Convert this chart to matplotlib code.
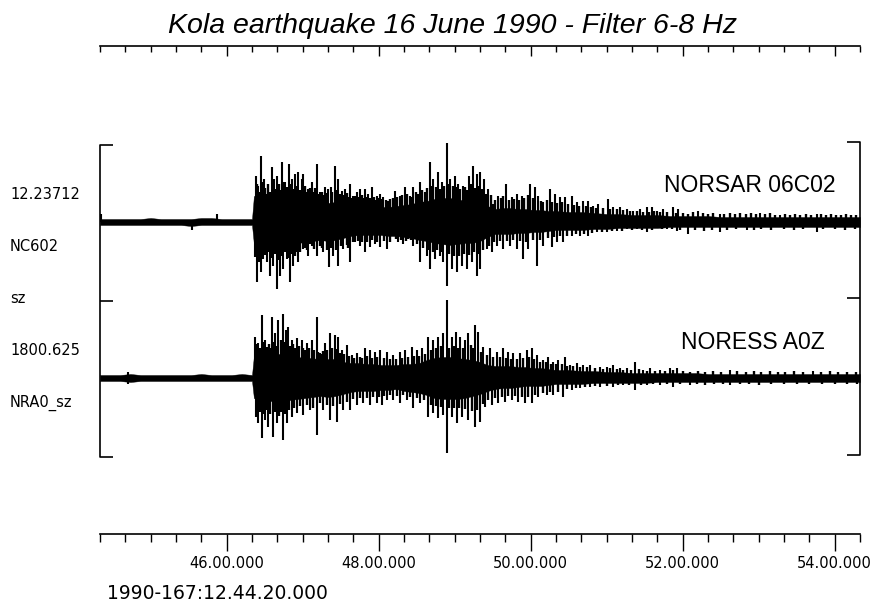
import numpy as np
import matplotlib
matplotlib.use("Agg")
import matplotlib.pyplot as plt

# time is seconds after 1990-167 12:44:20
core_t = np.r_[np.arange(0, 121, 8), 121.5, 126, np.arange(132, 361, 6), np.arange(370, 601, 10)]

# NORSAR 06C02 (NC602 sz) - solid part of the trace, upper / lower envelope
nc602_up = [3, 3, 3, 3, 3, 4, 3, 3, 3, 3, 4, 4, 3, 3, 3, 3,
            26, 26,
            24, 26, 25, 24, 23, 22, 21, 20, 19, 20, 18, 16, 16, 15, 15, 15, 15, 16, 17, 18,
            20, 21, 23, 24, 24, 23, 21, 21, 19, 16, 13, 14, 14, 13, 13, 12, 12, 11, 11,
            10, 10, 9, 8, 8, 7, 7, 7, 6, 6, 6, 6, 5, 5, 5, 5, 5, 5, 5, 5, 5, 5, 5, 5]
nc602_dn = [3, 3, 3, 3, 3, 3, 3, 3, 3, 4, 3, 3, 3, 3, 3, 3,
            22, 24,
            24, 25, 24, 23, 21, 20, 19, 18, 19, 18, 16, 14, 13, 13, 13, 13, 14, 14, 15, 16,
            18, 19, 21, 22, 23, 22, 21, 21, 19, 15, 12, 12, 12, 11, 11, 10, 10, 9, 8,
            8, 8, 7, 7, 6, 6, 6, 6, 5, 5, 5, 5, 5, 5, 5, 5, 5, 5, 5, 5, 5, 5, 5, 5]

# NORSAR 06C02 large single peaks (time, amplitude)
nc602_pk_up_t = [0.5, 92, 122.9, 125.0, 127.1, 129.5, 131.6, 135.6, 137.4, 139.5, 143.4, 146.1,
                 149.4, 151.8, 153.9, 156.6, 159.2, 160.5, 164.4, 167.1, 171.1, 173.7, 177.6,
                 180.2, 182.1, 185.5, 188.1, 190.8, 193.4, 197.4, 200, 202.7, 205.3, 209.2,
                 211.8, 214.5, 218.4, 221.1, 223.7, 227.6, 232.9, 236.8, 240.8, 244.7, 247.3,
                 252.6, 256.6, 260.5, 263.1, 267.1, 269.8, 273.7, 276.3, 280.3, 282.9, 286.8,
                 291.6, 294.7, 297.4, 300, 303.2, 306.6, 310.5, 314.4, 320.5, 325, 329, 332.9,
                 339.5, 343.4, 346, 350, 355.3, 359.2, 363.2, 367.1, 372.4, 376.3, 381.6, 385.5,
                 389.4, 393.4, 401.3, 405.2, 410.5, 415.8, 421, 426.3, 431.6, 435.5, 439.5,
                 444.7, 452.6, 456.5, 472.1, 489.5, 521, 536.8, 565.8]
nc602_pk_up_a = [8, 8, 46, 36, 66, 43, 28, 55, 43, 46, 60, 40,
                 58, 43, 48, 50, 43, 48, 33, 40, 58, 30, 35,
                 33, 35, 56, 43, 31, 33, 38, 26, 30, 33, 33,
                 28, 35, 26, 28, 25, 21, 31, 26, 35, 26, 35,
                 40, 30, 60, 43, 50, 40, 79, 43, 46, 38, 36,
                 46, 56, 48, 50, 43, 33, 18, 26, 38, 25, 28, 26,
                 38, 35, 26, 20, 33, 28, 25, 25, 26, 20, 21, 21,
                 16, 18, 23, 15, 15, 13, 11, 13, 15, 15, 11,
                 13, 15, 13, 11, 8, 9, 7, 8]
nc602_pk_dn_t = [73, 122.4, 123.7, 125.5, 126.9, 128.9, 131.6, 134.2, 136.3, 139.5, 142.1, 144.7,
                 147.4, 150, 152.6, 156.6, 160.5, 164.4, 167.1, 171.1, 176.3, 181, 184.2, 188.1,
                 192.1, 197.4, 201.3, 205.3, 209.2, 213.2, 217.1, 221.1, 226.3, 231.6, 235.5,
                 239.5, 243.4, 247.3, 252.6, 257.9, 260.5, 264.5, 268.4, 271.1, 273.7, 277.6,
                 281.6, 285.5, 289.5, 293.4, 297.4, 300, 305.3, 309.2, 313.2, 318.4, 323.7, 329,
                 334.2, 338.1, 344.8, 350, 356.6, 360.5, 365.8, 372.4, 378.9, 385.5, 392.1, 400,
                 407.9, 415.8, 423.7, 431.6, 439.5, 447.4, 455.3, 464.2, 489.5, 510.5, 565.8]
nc602_pk_dn_a = [8, 35, 60, 40, 50, 37, 40, 54, 44, 67, 54, 47,
                 37, 60, 44, 40, 27, 34, 24, 34, 30, 45, 34, 44,
                 27, 40, 20, 24, 30, 25, 22, 25, 27, 14, 20,
                 22, 17, 24, 40, 34, 47, 37, 34, 40, 64, 47,
                 50, 44, 47, 40, 54, 47, 27, 30, 24, 27, 24, 27,
                 37, 27, 44, 24, 25, 20, 20, 14, 14, 14, 10, 10,
                 9, 7, 7, 10, 5, 7, 9, 12, 10, 8, 10]

# NORSAR 06C02 smaller peaks between the large ones (time, amplitude)
nc602_sm_up = [(124, 38), (126, 30), (128.3, 40), (130.5, 34), (133, 38), (134.3, 30), (136.5, 36),
               (138.5, 33), (141, 38), (142.3, 32), (144.8, 40), (147.5, 35), (148.3, 30), (150.6, 38),
               (152.9, 33), (155, 36), (158, 32), (162, 36), (163.3, 30), (165.7, 34), (168.5, 30),
               (170, 34), (172.4, 28), (175, 30), (176.4, 27), (179, 29), (183.5, 30), (187, 32),
               (189.5, 28), (192, 27), (195, 29), (196, 25), (198.7, 24), (201.3, 26), (204, 25),
               (206.6, 27), (208, 24), (210.5, 25), (213, 24), (216, 25), (217.3, 22), (219.8, 24),
               (222.4, 23), (225.5, 22), (229, 23), (231, 24), (234.5, 25), (238.6, 27), (242.7, 28),
               (246, 25), (249.5, 30), (251, 28), (254.6, 32), (258.5, 34), (262, 36), (265, 35),
               (268.5, 33), (271.5, 36), (275, 38), (278.3, 36), (281.6, 35), (284.5, 33), (288, 35),
               (289.8, 32), (293, 38), (296, 34), (298.7, 36), (301.5, 33), (305, 28), (308.5, 27),
               (312, 22), (316.5, 24), (318.5, 26), (322.8, 22), (327, 23), (331, 22), (335, 24),
               (337.5, 27), (341.5, 24), (348, 21), (352.5, 22), (357, 20), (361, 19), (365, 20),
               (369.5, 18), (374, 17), (378.5, 16), (383.5, 16), (387.5, 15), (391.5, 14), (397, 14),
               (403, 13), (408, 13), (413, 12), (418.5, 11), (424, 11), (429, 10), (433.5, 10),
               (437.5, 11), (442, 10), (448, 10), (454.5, 9), (460, 9), (464, 8), (468, 10), (476, 9),
               (480, 8), (484, 9), (493, 8), (497, 9), (501, 8), (505, 9), (510, 8), (514, 9),
               (518, 8), (525, 8), (529, 9), (533, 7), (541, 8), (545, 7), (549, 8), (553, 7),
               (557, 8), (561, 7), (569, 8), (573, 7), (577, 8), (581, 7), (585, 7), (589, 8),
               (593, 7), (597, 7)]
nc602_sm_dn = [(124.5, 34), (127.8, 30), (130.2, 33), (133, 30), (135.2, 36), (137.8, 32), (140.8, 38),
               (143.4, 34), (146, 30), (148.7, 36), (151.3, 32), (154, 34), (155.3, 30), (158, 30),
               (162, 26), (163.3, 28), (165.8, 22), (169, 27), (173.7, 24), (175, 26), (178.9, 28),
               (182.5, 26), (186, 28), (190, 24), (194.7, 23), (196, 26), (199.5, 20), (203.3, 19),
               (207, 20), (211, 20), (215, 18), (219, 20), (224, 19), (228.9, 20), (233.6, 17),
               (237.5, 18), (241.4, 19), (245.4, 18), (250, 22), (255, 26), (259.2, 28), (262.5, 30),
               (266.4, 28), (270, 30), (275.7, 32), (279.5, 34), (283.5, 34), (287.5, 32), (291.5, 33),
               (295.4, 30), (298.7, 32), (302.6, 28), (307, 24), (311, 20), (315.8, 19), (321, 19),
               (326, 18), (331.6, 19), (336.2, 20), (341.5, 18), (347.4, 18), (353.3, 16), (358.5, 15),
               (363.2, 14), (368.4, 14), (375.6, 12), (382.2, 12), (388.8, 11), (396, 10), (403.9, 9),
               (411.8, 9), (419.7, 8), (427.6, 8), (435.5, 8), (443.4, 7), (451.3, 7), (458, 8),
               (470, 8), (477, 9), (483, 8), (495, 8), (502, 7), (516, 8), (522, 7), (530, 8),
               (540, 7), (548, 8), (555, 7), (571, 7), (580, 7), (588, 8), (596, 7)]

# NORESS A0Z (NRA0 sz)
nra0_up = [3, 3, 3, 4, 3, 3, 3, 3, 3, 3, 4, 3, 3, 3, 4, 3,
           22, 24,
           22, 24, 24, 23, 21, 20, 20, 18, 19, 19, 16, 15, 15, 14, 14, 13, 13, 13, 14, 14,
           15, 18, 20, 21, 21, 20, 19, 18, 16, 13, 12, 12, 12, 11, 11, 10, 10, 9, 8,
           8, 7, 7, 6, 6, 5, 5, 5, 5, 5, 5, 4, 4, 4, 4, 4, 4, 4, 4, 4, 4, 4, 4, 4]
nra0_dn = [3, 3, 3, 4, 3, 3, 3, 3, 3, 3, 3, 3, 3, 3, 3, 3,
           20, 22,
           22, 24, 23, 22, 21, 20, 19, 18, 19, 18, 16, 14, 13, 13, 13, 12, 12, 11, 13, 14,
           15, 17, 20, 21, 21, 21, 20, 18, 16, 13, 11, 10, 10, 9, 8, 8, 8, 7, 6,
           6, 6, 5, 5, 5, 5, 5, 4, 4, 4, 4, 4, 4, 4, 4, 4, 4, 4, 4, 4, 4, 4, 4, 4]

nra0_pk_up_t = [22, 122.4, 124.5, 127.7, 130.3, 132.1, 135.6, 138.2, 140.8, 144.2, 146.8, 148.7,
                151.3, 155.3, 159.2, 163.2, 167.1, 171.1, 173.7, 177.6, 181.6, 185.5, 188.1,
                190.8, 194.7, 198.7, 202.6, 209.2, 213.2, 217.1, 221.1, 226.3, 231.6, 236.8,
                240.8, 246.1, 250, 254, 259.2, 263.1, 267.1, 271.1, 273.7, 277.6, 281.1, 284.2,
                288.2, 290.8, 296.1, 298.7, 302.6, 307.9, 313.2, 318.4, 322.4, 326.3, 331.6,
                336.8, 340.8, 344.7, 350, 354, 357.9, 361.8, 367.1, 371.1, 376.3, 381.6, 386.8,
                394.7, 400, 405.2, 410.5, 415.8, 422.4, 429, 434.2, 442.1, 450, 455.3, 497.4,
                562.9]
nra0_pk_up_a = [6, 41, 35, 63, 38, 31, 61, 45, 58, 64, 48, 51,
                38, 40, 38, 35, 38, 61, 25, 35, 45, 43, 41,
                28, 33, 23, 25, 30, 28, 26, 28, 26, 23, 26,
                28, 31, 28, 30, 41, 38, 41, 45, 78, 41, 46, 41,
                38, 45, 53, 46, 31, 30, 26, 30, 26, 25, 25,
                28, 30, 23, 18, 21, 16, 18, 21, 13, 15, 13, 13,
                11, 11, 13, 10, 10, 16, 8, 10, 8, 10, 10, 8,
                7]
nra0_pk_dn_t = [22, 122.9, 125, 127.7, 130.3, 132.9, 136.3, 139.5, 144.2, 147.4, 151.3, 155.3,
                160.5, 165.8, 171.1, 176.3, 181.6, 186.8, 192.1, 197.4, 202.6, 207.9, 213.2,
                218.4, 222.4, 226.3, 231.6, 236.8, 242.1, 247.3, 252.6, 259.2, 263.1, 267.1,
                271.1, 273.7, 277.6, 281.6, 285.5, 290.8, 296.1, 300, 303.9, 309.2, 314.4,
                319.7, 325, 330.2, 335.5, 340.8, 346, 352.6, 357.9, 365.8, 372.4, 378.9, 386.8,
                394.7, 405.2, 413.2, 422.4, 431.6, 442.1, 452.6, 465.8, 497.4]
nra0_pk_dn_a = [6, 39, 45, 60, 42, 49, 59, 45, 62, 45, 39, 35,
                37, 32, 57, 32, 42, 44, 32, 32, 27, 25, 27,
                25, 27, 22, 22, 25, 22, 30, 25, 39, 35, 40,
                37, 75, 39, 45, 39, 42, 49, 44, 29, 27, 25,
                24, 22, 24, 25, 25, 19, 17, 17, 19, 12, 10, 9,
                9, 9, 7, 12, 7, 7, 9, 7, 7]

nra0_sm_up = [(123.5, 34), (126, 30), (129, 36), (131.2, 28), (133.5, 34), (134.5, 30), (137, 36),
              (139.5, 32), (142.5, 38), (145.5, 36), (147.7, 34), (150, 32), (152.6, 34), (154, 30),
              (157, 32), (160.5, 30), (161.8, 28), (165, 30), (169, 28), (172.4, 26), (175, 24),
              (176.3, 27), (179, 28), (183.5, 30), (186.8, 29), (189.5, 25), (192.5, 24), (196.5, 22),
              (200.5, 20), (205, 21), (207, 20), (211, 22), (215, 20), (219, 21), (224, 20), (229, 19),
              (234, 19), (238.8, 20), (243.5, 21), (248, 22), (252, 22), (256.6, 24), (261, 28),
              (265, 30), (269, 32), (275.5, 30), (279.5, 32), (283, 30), (286.5, 30), (292.5, 33),
              (294.5, 30), (300.5, 26), (305.3, 23), (310.5, 21), (315.8, 21), (320.5, 20),
              (324.5, 19), (329, 19), (334.2, 20), (338.8, 21), (342.7, 19), (347.4, 16), (352, 16),
              (356, 14), (359.9, 14), (364.5, 14), (369, 12), (373.7, 12), (379, 11), (384.2, 11),
              (390.8, 10), (397.4, 9), (402.6, 10), (407.9, 9), (413.2, 8), (419, 8), (425.6, 9),
              (431.6, 7), (438, 7), (446, 7), (452.6, 8), (460, 7), (466, 6), (472, 7), (478, 6),
              (484, 7), (490, 6), (503, 7), (510, 6), (516, 7), (522, 6), (529, 7), (535, 6),
              (541, 6), (548, 7), (555, 6), (569, 6), (576, 7), (583, 6), (590, 6), (597, 6)]
nra0_sm_dn = [(124, 32), (126.3, 34), (129, 36), (131.6, 32), (134.6, 36), (138, 34), (141.5, 38),
              (143, 34), (145.8, 36), (149.4, 32), (153.3, 30), (157.9, 28), (163.2, 27), (168.4, 30),
              (173.7, 25), (178.9, 27), (184.2, 28), (189.5, 26), (194.7, 24), (200, 21), (205.3, 20),
              (210.5, 20), (215.8, 19), (220, 19), (224.3, 18), (229, 17), (234.2, 18), (239.5, 17),
              (244.7, 19), (250, 20), (255.9, 22), (261.2, 27), (265.1, 28), (269.1, 29), (275.7, 30),
              (279.6, 30), (283.5, 30), (288, 31), (293.4, 33), (298, 32), (302, 26), (306.6, 22),
              (311.8, 20), (317, 19), (322.4, 18), (327.6, 18), (332.9, 19), (338.2, 19), (343.4, 17),
              (349.4, 15), (355.3, 14), (361.8, 14), (369, 11), (375.7, 10), (382.8, 9), (390.8, 8),
              (400, 8), (409.2, 7), (418, 7), (427, 7), (436.8, 6), (447.4, 6), (458, 6), (471, 6),
              (478, 7), (485, 6), (492, 6), (505, 6), (512, 6), (520, 7), (530, 6), (540, 6),
              (550, 6), (560, 6), (570, 6), (580, 6), (590, 6), (598, 6)]

station_names = ["NORSAR 06C02", "NORESS A0Z"]
left_labels = ["12.23712", "NC602", "sz", "1800.625", "NRA0_sz"]
major_t = [100, 220, 340, 460, 580]
major_labels = ["46.00.000", "48.00.000", "50.00.000", "52.00.000", "54.00.000"]
start_label = "1990-167:12.44.20.000"
title = "Kola earthquake 16 June 1990 - Filter 6-8 Hz"

W, H = 876, 605
fig = plt.figure(figsize=(W / 100, H / 100), dpi=100)


def fx(px):
    return px / W


def fy(py):
    return 1 - py / H


# traces
ax = fig.add_axes([fx(100), fy(460), 760 / W, 320 / H])
ax.set_xlim(0, 600)
ax.set_ylim(-160, 160)
ax.axis("off")

traces = [
    (78, nc602_up, nc602_dn, nc602_pk_up_t, nc602_pk_up_a, nc602_pk_dn_t, nc602_pk_dn_a,
     nc602_sm_up, nc602_sm_dn),
    (-78, nra0_up, nra0_dn, nra0_pk_up_t, nra0_pk_up_a, nra0_pk_dn_t, nra0_pk_dn_a,
     nra0_sm_up, nra0_sm_dn),
]
for off, up, dn, ut, ua, dt, da, sm_up, sm_dn in traces:
    up = np.array(up, float)
    dn = np.array(dn, float)
    ax.fill_between(core_t, off + up, off - dn, color="k", lw=0.3)
    su = np.array(sm_up, float)
    sd = np.array(sm_dn, float)
    ax.vlines(su[:, 0], off, off + su[:, 1], color="k", lw=1.7)
    ax.vlines(sd[:, 0], off, off - sd[:, 1], color="k", lw=1.7)
    ax.vlines(ut, off, off + np.array(ua), color="k", lw=1.5)
    ax.vlines(dt, off, off - np.array(da), color="k", lw=1.5)

# brackets around the traces
kw = dict(color="k", lw=1.2, clip_on=False, solid_capstyle="butt")
ax.plot([10, 0, 0, 10], [155, 155, -157, -157], **kw)
ax.plot([0, 10], [-1, -1], **kw)
ax.plot([590, 600, 600, 590], [158, 158, -155, -155], **kw)
ax.plot([590, 600], [2, 2], **kw)


def time_axis(py, minor_len, major_len, labels):
    a = fig.add_axes([fx(100), fy(py), 760 / W, 0.0001])
    a.set_xlim(0, 600)
    a.patch.set_visible(False)
    for s in ["top", "left", "right"]:
        a.spines[s].set_visible(False)
    a.spines["bottom"].set_linewidth(1.2)
    a.set_yticks([])
    minor_t = [t for t in range(0, 601, 20) if t not in major_t]
    a.set_xticks(major_t)
    a.set_xticks(minor_t, minor=True)
    a.tick_params(which="major", direction="out", length=major_len, width=1.0, pad=4)
    a.tick_params(which="minor", direction="out", length=minor_len, width=1.0)
    if labels:
        a.set_xticklabels(labels, fontsize=10.5, family="DejaVu Sans")
    else:
        a.set_xticklabels([])
    return a


time_axis(46, 4, 7.5, None)
time_axis(534, 6, 12, major_labels)

fig.text(fx(453), fy(33), title, ha="center", va="baseline",
         fontsize=20.5, style="italic", family="Liberation Sans")
fig.text(fx(835), fy(192), station_names[0], ha="right", va="baseline",
         fontsize=16.5, family="Liberation Sans")
fig.text(fx(825), fy(349), station_names[1], ha="right", va="baseline",
         fontsize=16.5, family="Liberation Sans")

left_y = [199, 251, 303, 355, 407]
for lab, py in zip(left_labels, left_y):
    fig.text(fx(10), fy(py), lab, ha="left", va="baseline", fontsize=10.5, family="DejaVu Sans")

fig.text(fx(107), fy(603), start_label, ha="left", va="bottom", fontsize=13.5, family="DejaVu Sans")

fig.savefig("out.png", dpi=100)
